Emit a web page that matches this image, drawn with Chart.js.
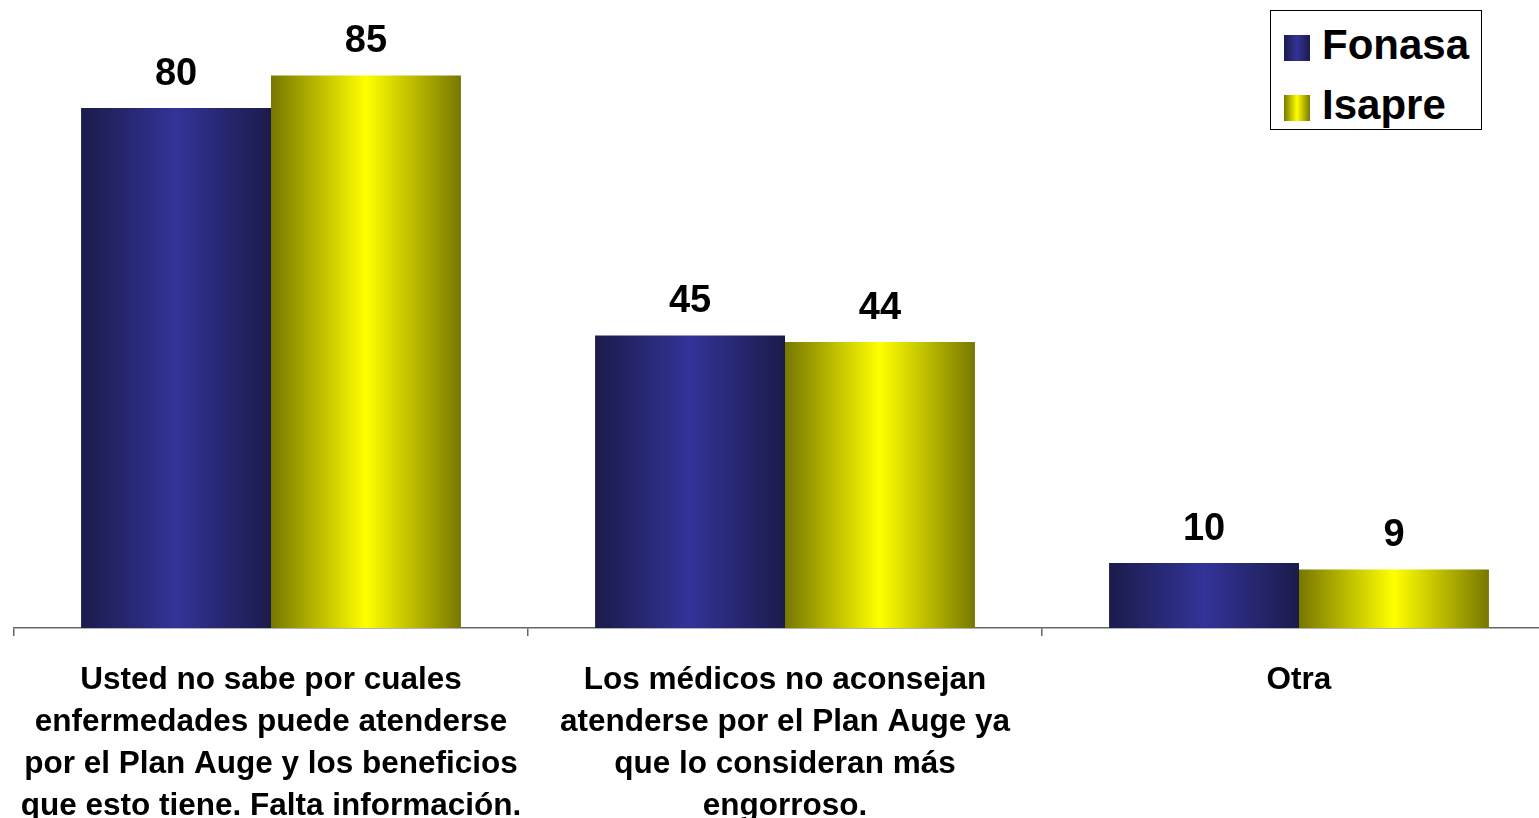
<!DOCTYPE html>
<html>
<head>
<meta charset="utf-8">
<script src="https://cdn.jsdelivr.net/npm/chart.js@4/dist/chart.umd.min.js"></script>
<style>
  html, body { margin: 0; padding: 0; background: #fff; overflow: hidden; }
  #wrap { position: relative; width: 1539px; height: 818px; overflow: hidden; }
  #box { position: absolute; left: 0; top: 0; width: 1562px; height: 818px; }
  #leyenda {
    position: absolute; left: 1270px; top: 10px; width: 210px; height: 118px;
    border: 1px solid #000; background: #fff;
    font-family: "Liberation Sans", Arial, sans-serif; font-weight: bold; font-size: 42px;
  }
  .item { position: absolute; left: 13px; height: 46px; line-height: 46px; white-space: nowrap; }
  .item span { display: inline-block; width: 26px; height: 26px; margin-right: 12px; vertical-align: -2px; }
</style>
</head>
<body>
<div id="wrap">
  <div id="box"><canvas id="grafico"></canvas></div>
  <div id="leyenda"></div>
</div>
<script>
const categorias = [
  ["Usted no sabe por cuales", "enfermedades puede atenderse", "por el Plan Auge y los beneficios", "que esto tiene. Falta información."],
  ["Los médicos no aconsejan", "atenderse por el Plan Auge ya", "que lo consideran más", "engorroso."],
  ["Otra"]
];
const series = ["Fonasa", "Isapre"];
const fonasa = [80, 45, 10];
const isapre = [85, 44, 9];

const colores = [
  { borde: '#1b1b4b', centro: '#333399' },
  { borde: '#777700', centro: '#ffff00' }
];
const anchoCat = 0.739;

function degradado(c) {
  const col = colores[c.datasetIndex];
  const chart = c.chart;
  if (c.dataIndex === undefined || !chart.chartArea) return col.centro;
  const xs = chart.scales.x;
  const cw = xs.width / categorias.length;
  const bw = cw * anchoCat / 2;
  const centro = xs.getPixelForValue(c.dataIndex);
  const izq = centro - bw + c.datasetIndex * bw;
  const g = chart.ctx.createLinearGradient(izq, 0, izq + bw, 0);
  g.addColorStop(0, col.borde);
  g.addColorStop(0.5, col.centro);
  g.addColorStop(1, col.borde);
  return g;
}

// leyenda en html
const ley = document.getElementById('leyenda');
series.forEach((s, i) => {
  const d = document.createElement('div');
  d.className = 'item';
  d.style.top = (11 + i * 60) + 'px';
  d.innerHTML = `<span style="background:linear-gradient(90deg, ${colores[i].borde}, ${colores[i].centro}, ${colores[i].borde})"></span>${s}`;
  ley.appendChild(d);
});

const etiquetas = {
  id: 'etiquetas',
  afterDatasetsDraw(chart) {
    const ctx = chart.ctx;
    ctx.save();
    ctx.font = 'bold 38px "Liberation Sans", Arial, sans-serif';
    ctx.fillStyle = '#000';
    ctx.textAlign = 'center';
    ctx.textBaseline = 'alphabetic';
    chart.data.datasets.forEach((ds, i) => {
      chart.getDatasetMeta(i).data.forEach((bar, j) => {
        ctx.fillText(ds.data[j], bar.x, bar.y - 23);
      });
    });
    ctx.restore();
  }
};

new Chart(document.getElementById('grafico'), {
  type: 'bar',
  data: {
    labels: categorias,
    datasets: [
      { label: series[0], data: fonasa, backgroundColor: degradado, barPercentage: 1, categoryPercentage: anchoCat },
      { label: series[1], data: isapre, backgroundColor: degradado, barPercentage: 1, categoryPercentage: anchoCat }
    ]
  },
  options: {
    responsive: true,
    maintainAspectRatio: false,
    animation: false,
    layout: { padding: { left: 14, right: 6, top: 0, bottom: 0 } },
    plugins: { legend: { display: false }, tooltip: { enabled: false } },
    scales: {
      x: {
        afterFit(s) { s.height = 190; s.paddingLeft = 0; s.paddingRight = 0; },
        border: { display: true, color: '#666', width: 1.5 },
        grid: { offset: true, drawOnChartArea: false, drawTicks: true, tickLength: 8, color: '#666', lineWidth: 1.5 },
        ticks: {
          color: '#000',
          padding: 23,
          maxRotation: 0,
          autoSkip: false,
          font: { family: '"Liberation Sans", Arial, sans-serif', weight: 'bold', size: 31.5, lineHeight: '42px' }
        }
      },
      y: { display: false, min: 0, max: 96.6 }
    }
  },
  plugins: [etiquetas]
});
</script>
</body>
</html>
